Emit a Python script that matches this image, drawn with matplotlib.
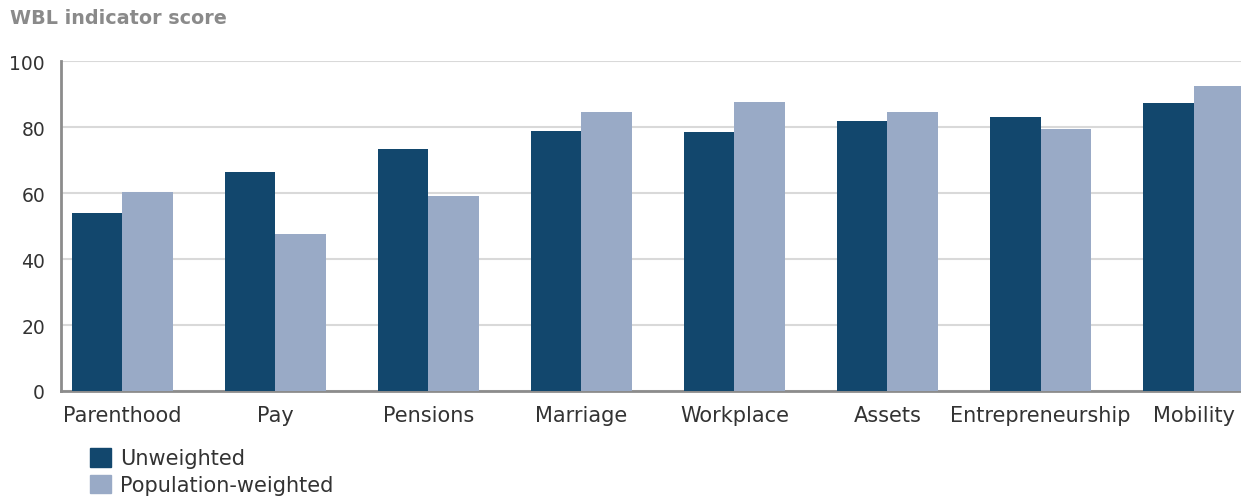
import numpy as np
import matplotlib.pyplot as plt
from matplotlib.patches import Patch

DARK = '#12476d'
LIGHT = '#99aac6'
TEXT = '#333333'

categories = ['Parenthood', 'Pay', 'Pensions', 'Marriage', 'Workplace',
              'Assets', 'Entrepreneurship', 'Mobility']
unweighted = [53.8, 66.3, 73.3, 78.7, 78.4, 81.8, 83.0, 87.3]
pop_weighted = [60.2, 47.7, 59.0, 84.5, 87.5, 84.5, 79.4, 92.4]
yticks = [0, 20, 40, 60, 80, 100]

fig = plt.figure(figsize=(12.41, 5.02), dpi=100)
ax = fig.add_axes([61 / 1241, 110 / 502, 1180 / 1241, 330 / 502])

x = np.arange(len(categories))
w = 0.33
ax.bar(x - w / 2, unweighted, width=w, color=DARK, zorder=3)
ax.bar(x + w / 2, pop_weighted, width=w, color=LIGHT, zorder=3)

ax.set_xlim(-0.4, 7.31)
ax.set_ylim(0, 100)
ax.set_yticks(yticks)
ax.set_yticklabels([str(t) for t in yticks], fontsize=13.5, color=TEXT)
ax.set_xticks(x)
ax.set_xticklabels(categories, fontsize=15, color=TEXT)
ax.tick_params(axis='both', length=0)
ax.tick_params(axis='y', pad=11.5)
ax.tick_params(axis='x', pad=10)
ax.grid(axis='y', color='#d9d9d9', linewidth=1.5, zorder=0)
for s in ['top', 'right']:
    ax.spines[s].set_visible(False)
ax.spines['left'].set_color('#8c8c8c')
ax.spines['bottom'].set_color('#8c8c8c')
ax.spines['left'].set_linewidth(2)
ax.spines['bottom'].set_linewidth(2)

fig.text(10 / 1241, 1 - 18 / 502, 'WBL indicator score', fontsize=13.8,
         fontweight='bold', color='#8a8a8a', va='center', ha='left')

handles = [Patch(color=DARK, label='Unweighted'),
           Patch(color=LIGHT, label='Population-weighted')]
fig.legend(handles=handles, loc='upper left', bbox_to_anchor=(90 / 1241, 1 - 449 / 502),
           frameon=False, fontsize=15, handlelength=1.0, handleheight=1.0,
           handletextpad=0.45, labelspacing=0.3, borderpad=0, borderaxespad=0,
           labelcolor=TEXT)

fig.savefig('out.png', dpi=100)
